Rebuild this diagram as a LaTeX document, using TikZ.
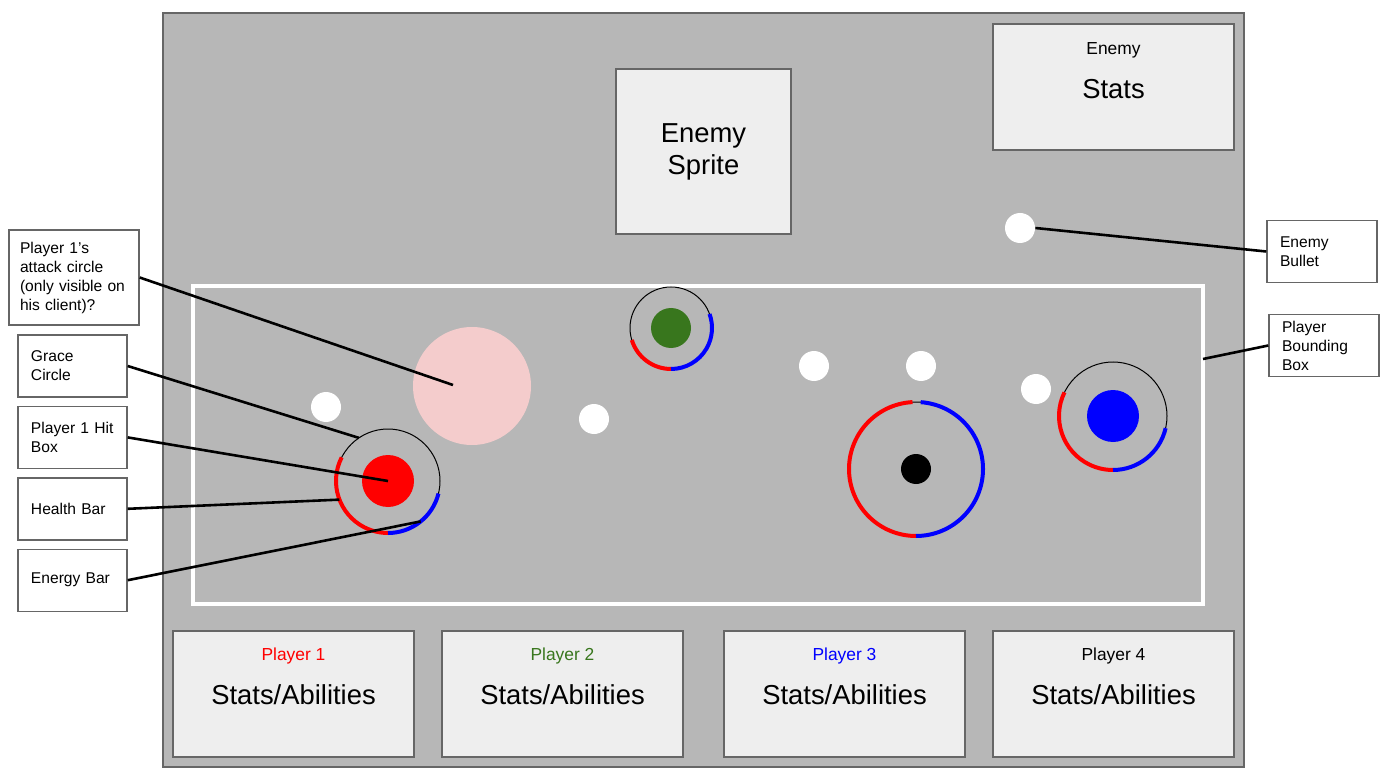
\documentclass[tikz,border=0pt]{standalone}
\usepackage{fontspec}
\setmainfont{Liberation Sans}
\usetikzlibrary{positioning}

\definecolor{arenagray}{HTML}{B7B7B7}
\definecolor{panelgray}{HTML}{EEEEEE}
\definecolor{edgegray}{HTML}{666666}
\definecolor{attackpink}{HTML}{F4CCCC}
\definecolor{ptgreen}{HTML}{38761D}

\begin{document}
\begin{tikzpicture}[
    x=0.5pt, y=-0.5pt,
    panel/.style={rectangle, draw=edgegray, fill=panelgray, line width=0.7pt, minimum width=120.5pt, minimum height=63pt, inner sep=0pt},
    note/.style={rectangle, draw=edgegray, fill=white, line width=0.7pt, minimum width=54.5pt, minimum height=31pt, inner xsep=6.5pt, inner ysep=0pt, text width=41.5pt, align=left, font=\fontsize{7.8}{9.5}\selectfont},
    big/.style={font=\fontsize{13.7}{16}\selectfont},
    tag/.style={font=\fontsize{8.7}{10}\selectfont},
    shot/.style={circle, fill=white, minimum size=15pt, inner sep=0pt},
    grace/.style={circle, draw=black, line width=0.5pt, inner sep=0pt, outer sep=0pt},
    hit/.style={circle, inner sep=0pt},
    hpbar/.style={red, line width=2pt},
    epbar/.style={blue, line width=2pt},
    leader/.style={black, line width=1.3pt}
]
\useasboundingbox (0,0) rectangle (1392,775);

% play field
\draw[draw=edgegray, fill=arenagray, line width=0.7pt] (163,13) rectangle (1244,767);
\draw[white, line width=2.2pt] (193,286) rectangle (1203,604);
\coordinate (pbbp) at (1203,359);

% enemy
\node[panel, minimum width=87.5pt, minimum height=82.5pt, align=center, big] (sprite) at (703.5,151.5) {Enemy\\Sprite};
\node[panel] (es) at (1113.5,87) {};
\node[big] (est) at ([yshift=-1pt]es.center) {Stats};
\node[tag] (esn) at ([yshift=18.5pt]es.center) {Enemy};

% player panels
\foreach \n/\x/\c in {1/293.5/red, 2/562.5/ptgreen, 3/844.5/blue, 4/1113.5/black} {
    \node[panel] (p\n) at (\x,694) {};
    \node[big] (ps\n) at ([yshift=-0.5pt]p\n.center) {Stats/Abilities};
    \node[tag, text=\c] (pt\n) at ([yshift=19pt]p\n.center) {Player \n};
}

% attack circle and bullets
\node[circle, fill=attackpink, minimum size=59pt, inner sep=0pt] (ac) at (472,386) {};
\coordinate (acp) at (453,385);
\foreach \i/\x/\y in {1/326/407, 2/594/419, 3/814/366, 4/921/366, 5/1036/389, 6/1020/228}
    \node[shot] (b\i) at (\x,\y) {};

% players: grace circle, hit box, health and energy
\foreach \n/\x/\y/\r/\h/\c/\a/\b in {1/388/481/26/26/red/153/346, 2/671/328/20.5/20/ptgreen/197/380, 3/916/469/33.5/15/black/93/446, 4/1113/416/27/26/blue/154/347} {
    \node[grace, minimum size={2*\r*1pt}] (g\n) at (\x,\y) {};
    \node[hit, fill=\c, minimum size={\h*1pt}] (h\n) at (\x,\y) {};
    \draw[hpbar] (g\n.\a) arc[start angle=\a, end angle=270, radius=\r*1pt];
    \draw[epbar] (g\n.270) arc[start angle=270, end angle=\b, radius=\r*1pt];
}

% callouts
\node[note, minimum width=65pt, minimum height=47.5pt, inner xsep=5.5pt, text width=54pt] (atk) at (74,277.5) {Player 1’s\\attack circle\\(only visible on\\his client)?};
\node[note] (gc) at (72.5,366) {Grace\\Circle};
\node[note, below=4pt of gc] (hb) {Player 1 Hit\\Box};
\node[note, below=4pt of hb] (hp) {Health Bar};
\node[note, below=4pt of hp] (en) {Energy Bar};
\node[note, minimum width=55pt, text width=42pt] (ebl) at (1322,251.5) {Enemy\\Bullet};
\node[note, minimum width=55pt, text width=42pt] (pbl) at (1324,345.5) {Player\\Bounding\\Box};

\draw[leader] (atk.east) -- (acp);
\draw[leader] (gc.east) -- (g1.124);
\draw[leader] (hb.east) -- (h1.center);
\draw[leader] (hp.east) -- (g1.201);
\draw[leader] (en.east) -- (g1.309);
\draw[leader] (b6.east) -- (ebl.west);
\draw[leader] (pbbp) -- (pbl.west);

\end{tikzpicture}
\end{document}
